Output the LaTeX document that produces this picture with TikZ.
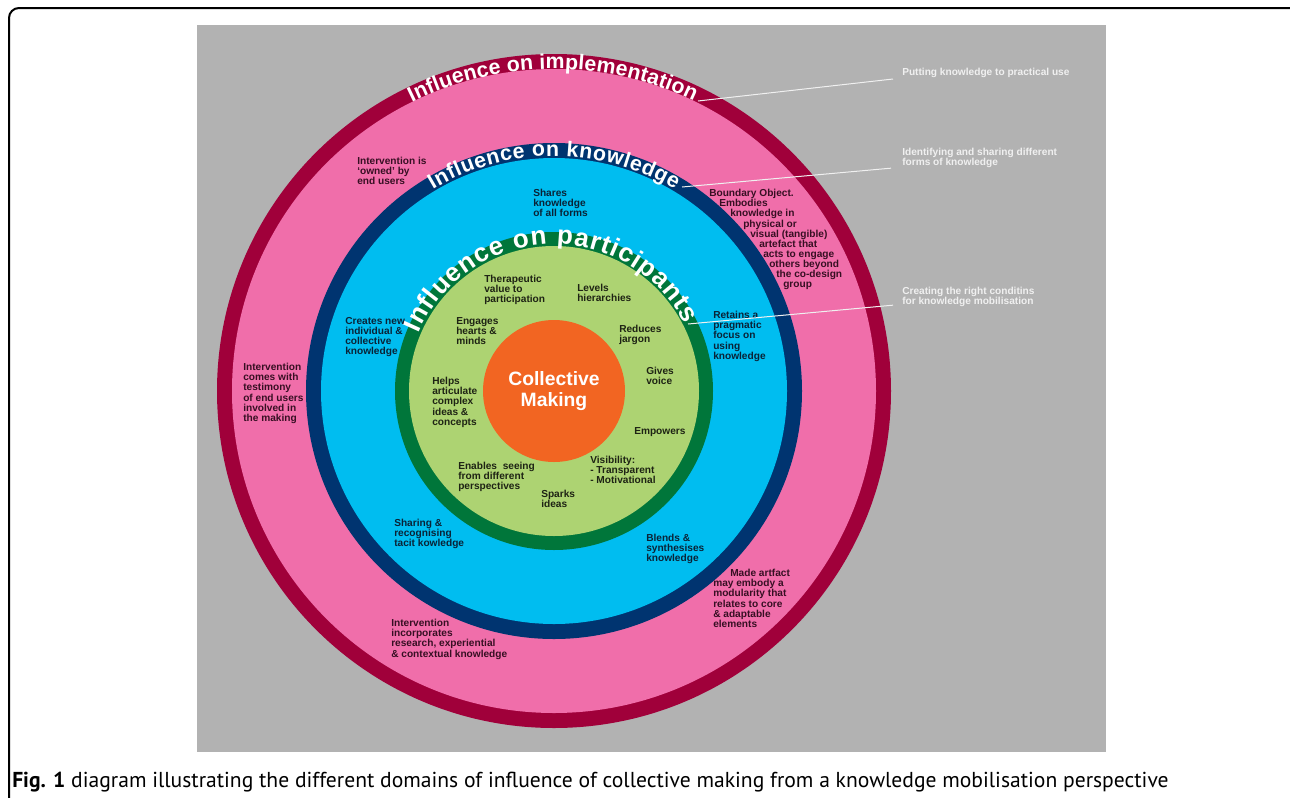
\documentclass[tikz,border=0pt]{standalone}
\usepackage{fontspec}
\setmainfont{Liberation Sans}
\newfontfamily\capfont{PT Sans}
\usetikzlibrary{decorations.text}
\definecolor{bgGray}{RGB}{178,178,178}
\definecolor{implRed}{RGB}{160,0,58}
\definecolor{implPink}{RGB}{240,110,170}
\definecolor{knowBlue}{RGB}{0,52,112}
\definecolor{knowSky}{RGB}{0,189,240}
\definecolor{partGreen}{RGB}{0,118,58}
\definecolor{partLime}{RGB}{173,211,114}
\definecolor{makeOrange}{RGB}{242,101,34}
\definecolor{pinkInk}{RGB}{55,15,35}
\definecolor{skyInk}{RGB}{10,35,55}
\definecolor{limeInk}{RGB}{30,35,20}
\newcommand{\ind}[1]{\hspace*{#1pt}}

\begin{document}
\begin{tikzpicture}[x=0.75pt,y=0.75pt,
  txt/.style={anchor=north west, inner sep=0pt, align=left, font=\bfseries\fontsize{7.6}{7.6}\selectfont},
  pinktxt/.style={txt, text=pinkInk},
  skytxt/.style={txt, text=skyInk},
  limetxt/.style={txt, text=limeInk},
  note/.style={txt, text=white!94!black},
  leader/.style={draw=white!94!black, line width=0.75},
  ringlabel/.style={decorate, decoration={text along path, text color=white, text align={fit to path}, text={#1}}}]
\useasboundingbox (0,0) rectangle (1290,-797);

%Frame and background
\draw[line width=1.5pt, rounded corners=7.5pt] (9,-8) rectangle (1320,-812);
\fill[bgGray] (197,-25) rectangle (1106,-752);

\coordinate (ctr) at (554,-391);

%Shape: Circles
\fill[implRed] (ctr) circle [radius=337];
\fill[implPink] (ctr) circle [radius=322];
\fill[knowBlue] (ctr) circle [radius=248];
\fill[knowSky] (ctr) circle [radius=233];
\fill[partGreen] (ctr) circle [radius=159];
\fill[partLime] (ctr) circle [radius=145];
\fill[makeOrange] (ctr) circle [radius=71];

%Ring titles
\path[ringlabel={|\bfseries\fontsize{16}{16}\selectfont|Influence on implementation}]
  ([shift={(116.2:322)}]ctr) arc [start angle=116.2, end angle=64.3, radius=322];
\path[ringlabel={|\bfseries\fontsize{16}{16}\selectfont|Influence on knowledge}]
  ([shift={(121:235)}]ctr) arc [start angle=121, end angle=59, radius=235];
\path[ringlabel={|\bfseries\fontsize{19.5}{19.5}\selectfont|Influence on participants}]
  ([shift={(157:147)}]ctr) arc [start angle=157, end angle=27, radius=147];

% Text Node
\node[align=center, inner sep=0pt, text=white, font=\bfseries\fontsize{14.5}{15.75}\selectfont] (making) at (ctr) {Collective\\Making};

% Text Node
\node[pinktxt] (owned) at (357,-157) {Intervention is\\‘owned’ by\\end users};
% Text Node
\node[pinktxt] (testimony) at (243,-363) {Intervention\\comes with\\testimony\\of end users\\involved in\\the making};
% Text Node
\node[pinktxt] (boundary) at (709,-189) {Boundary Object.\\\ind{7.5}Embodies\\\ind{15.75}knowledge in\\\ind{25.5}physical or\\\ind{30.75}visual (tangible)\\\ind{37.5}artefact that\\\ind{40.5}acts to engage\\\ind{45}others beyond\\\ind{50.25}the co-design\\\ind{55.5}group};
% Text Node
\node[pinktxt] (modular) at (713,-569) {\ind{12.75}Made artfact\\may embody a\\modularity that\\relates to core\\\& adaptable\\elements};
% Text Node
\node[pinktxt] (research) at (391,-619) {Intervention\\incorporates\\research, experiential\\\& contextual knowledge};

% Text Node
\node[skytxt] (shares) at (533,-189) {Shares\\knowledge\\of all forms};
% Text Node
\node[skytxt] (creates) at (345,-317) {Creates new\\individual \&\\collective\\knowledge};
% Text Node
\node[skytxt] (retains) at (713,-311) {Retains a\\pragmatic\\focus on\\using\\knowledge};
% Text Node
\node[skytxt] (tacit) at (394,-519) {Sharing \&\\recognising\\tacit kowledge};
% Text Node
\node[skytxt] (blends) at (646,-534) {Blends \&\\synthesises\\knowledge};

% Text Node
\node[limetxt] (therapeutic) at (484,-275) {Therapeutic\\value to\\participation};
% Text Node
\node[limetxt] (levels) at (577,-284) {Levels\\hierarchies};
% Text Node
\node[limetxt] (engages) at (456,-317) {Engages\\hearts \&\\minds};
% Text Node
\node[limetxt] (jargon) at (619,-325) {Reduces\\jargon};
% Text Node
\node[limetxt] (voice) at (646,-367) {Gives\\voice};
% Text Node
\node[limetxt] (helps) at (432,-377) {Helps\\articulate\\complex\\ideas \&\\concepts};
% Text Node
\node[limetxt] (empowers) at (634,-427) {Empowers};
% Text Node
\node[limetxt] (enables) at (458,-462) {Enables\ \ seeing\\from different\\perspectives};
% Text Node
\node[limetxt] (visibility) at (590,-456) {Visibility:\\- Transparent\\- Motivational};
% Text Node
\node[limetxt] (sparks) at (541,-490) {Sparks\\ideas};

% Text Node
\node[note, anchor=west] (practical) at (902,-73) {Putting knowledge to practical use};
% Text Node
\node[note] (forms) at (902,-148) {Identifying and sharing different\\forms of knowledge};
% Text Node
\node[note] (conditions) at (902,-287) {Creating the right conditins\\for knowledge mobilisation};

%Straight Lines
\coordinate (implTip) at (698,-101);
\coordinate (knowTip) at (682,-187);
\coordinate (partTip) at (688,-324);
\draw[leader] (implTip) -- ([shift={(-9,-6)}]practical.west);
\draw[leader] (knowTip) -- ([shift={(-11,0)}]forms.south west);
\draw[leader] (partTip) -- ([shift={(-9,2)}]conditions.south west);

% Text Node
\node[anchor=west, inner sep=0pt, font=\capfont\fontsize{16.2}{18}\selectfont] (caption) at (12,-782) {\textbf{Fig. 1} diagram illustrating the different domains of influence of collective making from a knowledge mobilisation perspective};

\end{tikzpicture}
\end{document}
